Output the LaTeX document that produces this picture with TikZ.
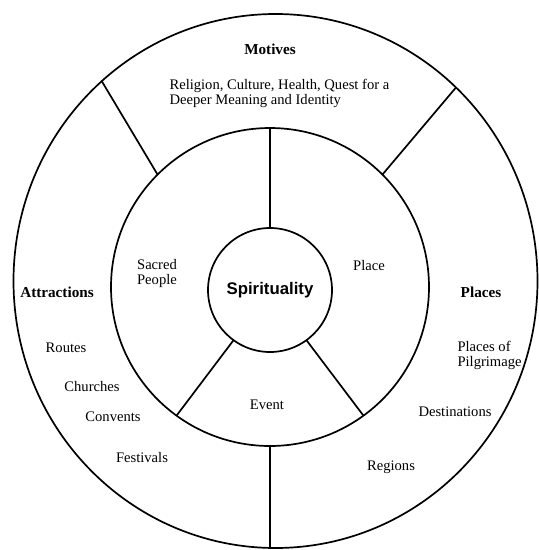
\documentclass[tikz,border=0pt]{standalone}
\usepackage{fontspec}
\setmainfont{Liberation Serif}
\newfontfamily\corefont{Liberation Sans}
\usetikzlibrary{calc,positioning,shapes.geometric}

\begin{document}
\begin{tikzpicture}[x=1pt,y=1pt]
  \tikzset{ ring/.style={circle,draw,line width=1.7pt,inner sep=0pt,outer sep=0pt},
    lbl/.style={font=\fontsize{14.6}{15}\selectfont,align=center},
    head/.style={font=\fontsize{15.2}{17}\selectfont\bfseries},
  }
  \useasboundingbox (0,0) rectangle (539,-550);

  % the three rings
  \node[ring,ellipse,minimum width=524pt,minimum height=534pt] (outer) at (275.5,-281) {};
  \node[ring,minimum size=318pt] (mid) at (270,-287) {};
  \node[ring,minimum size=124pt,font=\corefont\bfseries\fontsize{16.8}{18}\selectfont] (core) at (270,-290) {Spirituality};

  % the spokes between the rings
  \draw[line width=1.7pt] (core.north) -- (mid.north);
  \draw[line width=1.7pt] (core.234) -- (mid.234);
  \draw[line width=1.7pt] (core.306) -- (mid.306);
  \draw[line width=1.7pt] (mid.135) -- (outer.131);
  \draw[line width=1.7pt] (mid.45) -- (outer.47);
  \draw[line width=1.7pt] (mid.south) -- (mid.south |- outer.south);

  % inner ring
  \node[lbl] (sacred) at (157,-273) {Sacred\\People};
  \node[lbl] (place) at (369,-265) {Place};
  \node[lbl] (event) at (267,-405) {Event};

  % outer ring
  \node[head] (motives) at (270,-49) {Motives};
  \node[lbl,align=left,anchor=north west] (reasons) at (166,-76) {Religion, Culture, Health, Quest for a\\Deeper Meaning and Identity};

  \node[head] (attractions) at (57,-292) {Attractions};
  \node[lbl] (routes) at (66,-348) {Routes};
  \node[lbl] (churches) at (92,-386) {Churches};
  \node[lbl] (convents) at (113,-417) {Convents};
  \node[lbl] (festivals) at (142,-457) {Festivals};

  \node[head] (places) at (481,-292) {Places};
  \node[lbl,align=left,anchor=west] (pilgrimage) at (454,-355) {Places of\\Pilgrimage};
  \node[lbl] (destinations) at (455,-412) {Destinations};
  \node[lbl] (regions) at (391,-467) {Regions};
\end{tikzpicture}
\end{document}
